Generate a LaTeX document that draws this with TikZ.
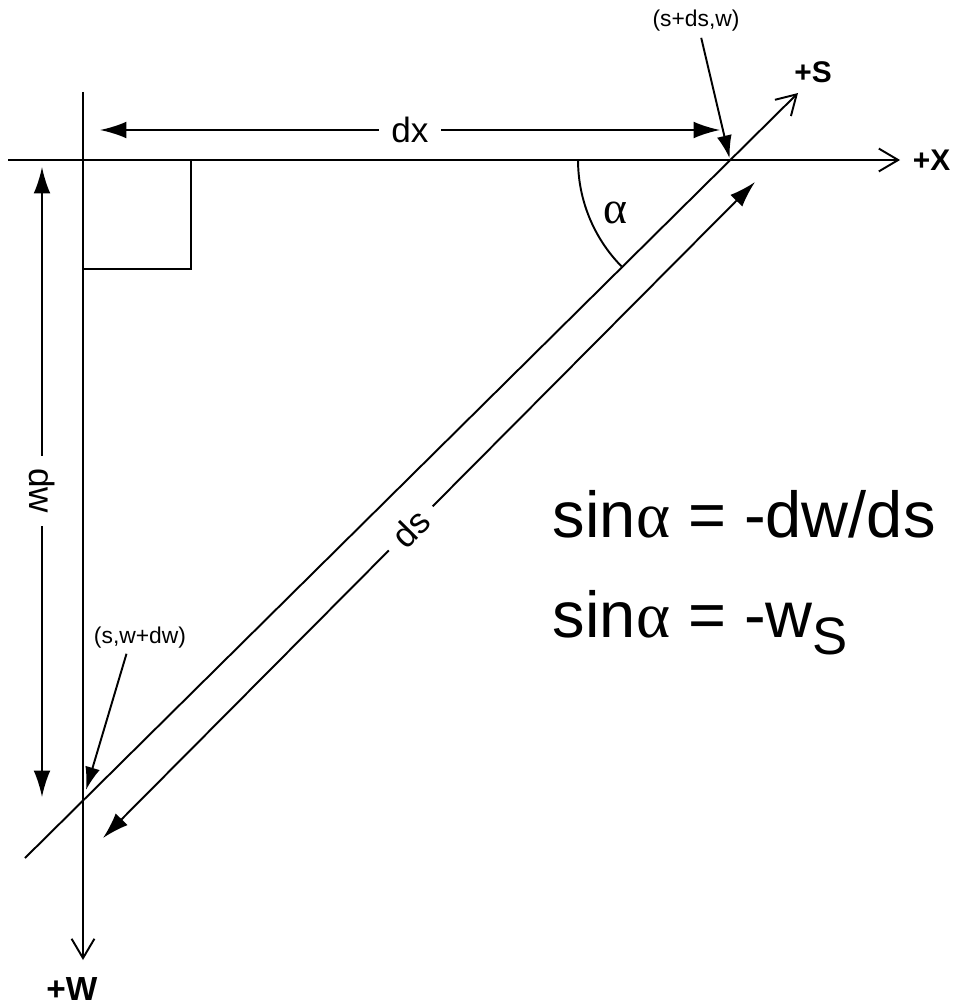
\documentclass[tikz,border=0pt]{standalone}
\usepackage{fontspec}
\setmainfont{Liberation Sans}
\newfontfamily\grkfont{Liberation Serif}
\usetikzlibrary{arrows.meta, calc}
\tikzset{
  axis/.style={-{Straight Barb[length=11pt,width=13pt]}, line width=1.1pt},
  dim/.style={{Latex[length=15pt,width=9.5pt]}-{Latex[length=15pt,width=9.5pt]},
              line width=1.1pt},
  ptr/.style={-{Latex[length=13pt,width=8.5pt]}, line width=1.1pt},
  dimlab/.style={fill=white, inner xsep=7pt, inner ysep=0pt,
                 font=\fontsize{20}{22}\selectfont},
  axlab/.style={font=\fontsize{17}{19}\selectfont\bfseries, inner sep=0pt},
  ptlab/.style={font=\fontsize{13}{15}\selectfont, inner sep=0pt},
  eqn/.style={font=\fontsize{37}{40}\selectfont, inner sep=0pt, anchor=base west},
}

\begin{document}
\begin{tikzpicture}[x=0.02cm, y=0.02cm, line width=1.1pt]
  \useasboundingbox (0,0) rectangle (959,-1007);
  % corner points
  \coordinate (O) at (83,-160);
  \coordinate (P) at (730,-160);
  \coordinate (Q) at (83,-800);

  % axes
  \node[axlab, anchor=west] (labX) at (912,-160) {+X};
  \node[axlab] (labS) at (813,-72) {+S};
  \node[axlab, anchor=north, font=\fontsize{19}{21}\selectfont\bfseries]
    (labW) at (72,-977) {+W};
  \coordinate (xa) at (8,-160);
  \coordinate (wa) at (83,-92);
  \coordinate (sa) at (25,-858);
  \coordinate (sb) at (798,-93);
  \draw[axis, shorten >=6.8pt] (xa) -- (labX.west);
  \draw[axis] (wa) -- (83,-960);
  \draw[axis] (sa) -- (sb);
  \draw (O) rectangle (191,-269);

  % dimensions
  \coordinate (dxa) at (100,-130);
  \coordinate (dxb) at (720,-130);
  \draw[dim] (dxa) -- node[dimlab] (dxl) {dx} (dxb);
  \coordinate (dwa) at (42,-167);
  \coordinate (dwb) at (42,-797);
  \draw[dim] (dwa) -- node[dimlab, rotate=-90, pos=0.514] (dwl) {dw} (dwb);
  \coordinate (dsa) at (755,-182);
  \coordinate (dsb) at (103,-838);
  \draw[dim] (dsa) -- node[dimlab, sloped, pos=0.528] (dsl) {ds} (dsb);

  % angle
  \draw (P) ++(180:3.04cm) arc[start angle=180, end angle=224.5, radius=3.04cm];
  \node[font=\fontsize{26}{28}\selectfont\grkfont] (alpha) at (615,-213) {α};

  % points
  \node[ptlab, anchor=base] (ptP) at (696,-27) {(s+ds,w)};
  \node[ptlab, anchor=base] (ptQ) at (140,-643) {(s,w+dw)};
  \draw[ptr, shorten <=3pt, shorten >=1pt] ([xshift=0.08cm]ptP.south) -- (P);
  \draw[ptr, shorten <=3pt, shorten >=6pt] ([xshift=-0.24cm]ptQ.south) -- (Q);

  % relations
  \node[eqn] (eqa) at (552,-537) {sin{\grkfont α} = -dw/ds};
  \node[eqn] (eqb) at (552,-637)
    {sin{\grkfont α} = -w\raisebox{-10pt}{\fontsize{30}{30}\selectfont S}};
\end{tikzpicture}
\end{document}
